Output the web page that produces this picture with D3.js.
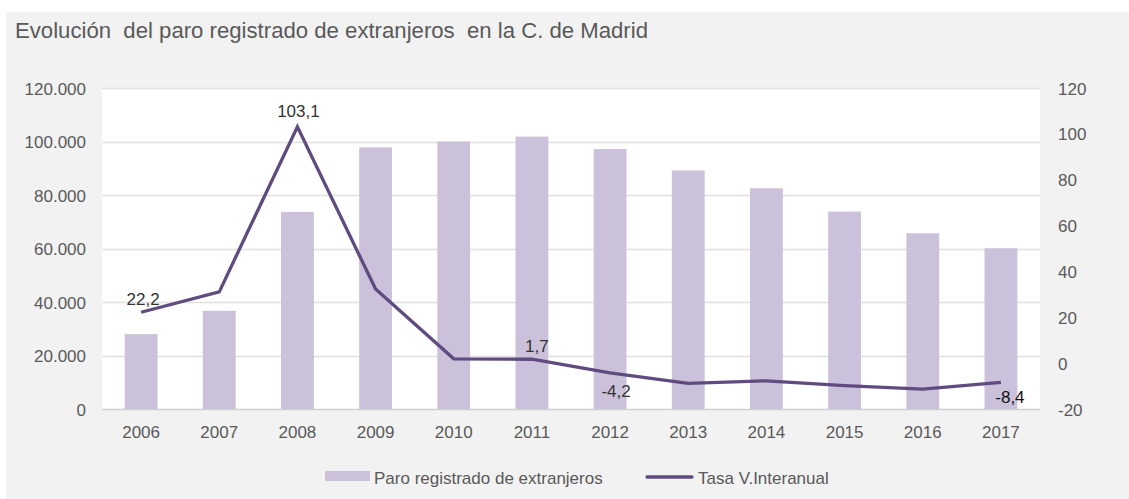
<!DOCTYPE html>
<html><head><meta charset="utf-8">
<script src="https://cdn.jsdelivr.net/npm/d3@7"></script>
<style>
html,body{margin:0;padding:0;background:#fff;}
svg{display:block;font-family:"Liberation Sans",Arial,sans-serif;}
</style></head>
<body><div id="chart"></div>
<script>
const years = ["2006","2007","2008","2009","2010","2011","2012","2013","2014","2015","2016","2017"];
const paro = [28000,36700,73700,97800,100000,101800,97200,89200,82500,73800,65700,60100];
const tasa = [22.2,31.1,103.1,32.3,1.9,1.7,-4.2,-8.8,-7.7,-9.8,-11.3,-8.4];
const leftTicks = [0,20000,40000,60000,80000,100000,120000];
const rightTicks = [-20,0,20,40,60,80,100,120];
const labelled = {"2006":"22,2","2008":"103,1","2011":"1,7","2012":"-4,2","2017":"-8,4"};
const title = "Evolución  del paro registrado de extranjeros  en la C. de Madrid";
const legendBar = "Paro registrado de extranjeros";
const legendLine = "Tasa V.Interanual";

const W = 1129, H = 499;
const plot = {left:102, right:1040, top:88, bottom:409};
const barColor = "#cbc1da", lineColor = "#5f4b7f", textColor = "#595959";
const tickFont = 17;

const svg = d3.select("#chart").append("svg").attr("width",W).attr("height",H);
svg.append("rect").attr("x",6).attr("y",12).attr("width",W-6).attr("height",H-12).attr("fill","#f2f2f2");
svg.append("rect").attr("x",plot.left).attr("y",plot.top).attr("width",plot.right-plot.left).attr("height",plot.bottom-plot.top).attr("fill","#fff");

svg.append("text").attr("x",15).attr("y",38).attr("fill",textColor).attr("font-size",22.5)
  .attr("textLength",633).attr("lengthAdjust","spacingAndGlyphs")
  .style("white-space","pre").text(title);

const x = d3.scaleBand().domain(years).range([plot.left,plot.right]).paddingInner(0.58).paddingOuter(0.29);
const yL = d3.scaleLinear().domain([0,120000]).range([plot.bottom,plot.top]);
const yR = d3.scaleLinear().domain([-20,120]).range([plot.bottom,plot.top]);

// gridlines
svg.append("g").selectAll("line").data(leftTicks).join("line")
  .attr("x1",plot.left).attr("x2",plot.right)
  .attr("y1",d=>Math.round(yL(d))+0.5).attr("y2",d=>Math.round(yL(d))+0.5)
  .attr("stroke",d=>d===0?"#d0d0d0":"#e0e0e0").attr("stroke-width",1.3);

// axes
const fmt = d3.formatLocale({decimal:",",thousands:".",grouping:[3],currency:["","€"]}).format(",.0f");
const gL = svg.append("g").attr("transform",`translate(${plot.left},0)`)
  .call(d3.axisLeft(yL).tickValues(leftTicks).tickFormat(fmt).tickSize(0).tickPadding(16));
const gR = svg.append("g").attr("transform",`translate(${plot.right},0)`)
  .call(d3.axisRight(yR).tickValues(rightTicks).tickFormat(d=>String(d)).tickSize(0).tickPadding(18));
const gX = svg.append("g").attr("transform",`translate(0,${plot.bottom})`)
  .call(d3.axisBottom(x).tickSize(0).tickPadding(17));
[gL,gR,gX].forEach(g=>{
  g.select(".domain").remove();
  g.selectAll("text").attr("fill",textColor).attr("font-size",tickFont).attr("font-family","Liberation Sans, Arial, sans-serif");
});
gL.selectAll("text").attr("dy","0.36em");
gR.selectAll("text").attr("dy","0.36em");

// bars
svg.append("g").selectAll("rect").data(years).join("rect")
  .attr("x",d=>x(d)).attr("width",x.bandwidth())
  .attr("y",(d,i)=>yL(paro[i])).attr("height",(d,i)=>yL(0)-yL(paro[i]))
  .attr("fill",barColor);

// line
const cx = d=>x(d)+x.bandwidth()/2;
const line = d3.line().x((d,i)=>cx(years[i])).y(d=>yR(d));
svg.append("path").datum(tasa).attr("d",line).attr("fill","none")
  .attr("stroke",lineColor).attr("stroke-width",3.3).attr("stroke-linejoin","miter");

// data labels
const offsets = {"2006":[2,-7],"2008":[1,-10],"2011":[5,-7],"2012":[6,24],"2017":[9,21]};
svg.append("g").selectAll("text").data(Object.keys(labelled)).join("text")
  .attr("x",d=>cx(d)+offsets[d][0])
  .attr("y",d=>yR(tasa[years.indexOf(d)])+offsets[d][1])
  .attr("text-anchor","middle").attr("font-size",17)
  .attr("fill",d=>d==="2017"?"#111":"#333")
  .text(d=>labelled[d]);

// legend
const lg = svg.append("g");
lg.append("rect").attr("x",325).attr("y",471).attr("width",45).attr("height",10).attr("fill",barColor);
lg.append("text").attr("x",374).attr("y",484).attr("font-size",17).attr("fill",textColor).text(legendBar);
lg.append("line").attr("x1",647).attr("x2",692).attr("y1",477).attr("y2",477)
  .attr("stroke",lineColor).attr("stroke-width",3.3).attr("stroke-linecap","round");
lg.append("text").attr("x",698).attr("y",484).attr("font-size",17).attr("fill",textColor).text(legendLine);
</script></body></html>
